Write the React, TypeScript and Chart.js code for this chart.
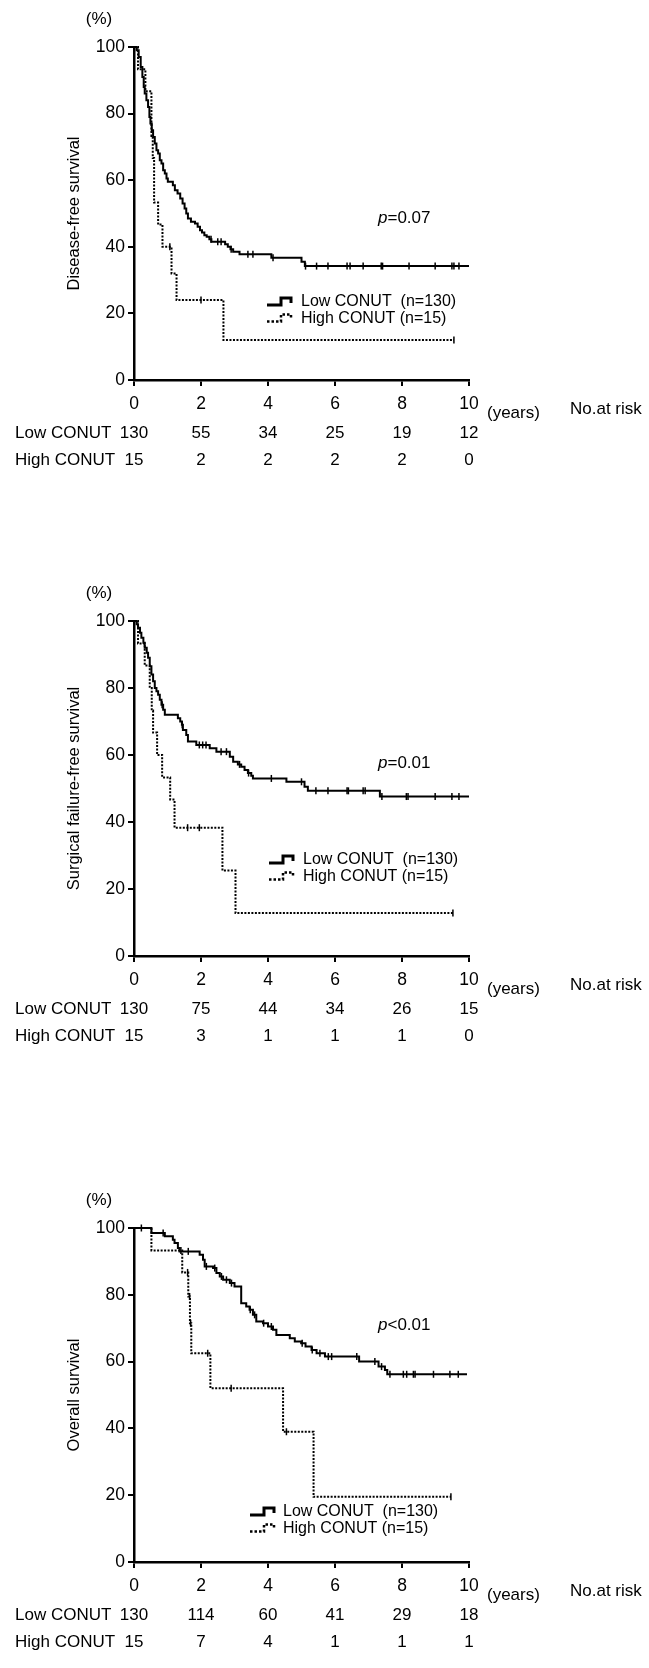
import React, { useEffect, useRef } from 'react';
import { Chart, registerables } from 'chart.js';

Chart.register(...registerables);

const FONT = "'Liberation Sans', Arial, Helvetica, sans-serif";

// ---------- axis ticks / labels ----------
const xTickValues = [0, 2, 4, 6, 8, 10];
const yTickValues = [0, 20, 40, 60, 80, 100];
const groupLabels = ['Low CONUT', 'High CONUT'];
const legendLabels = ['Low CONUT  (n=130)', 'High CONUT (n=15)'];
const yTitles = ['Disease-free survival', 'Surgical failure-free survival', 'Overall survival'];
const pValueTexts = ['=0.07', '=0.01', '<0.01'];

// ---------- Disease-free survival ----------
const dfsLowTimes = [0, 0.08, 0.14, 0.2, 0.25, 0.29, 0.32, 0.37, 0.42, 0.46, 0.49, 0.53, 0.57, 0.62, 0.67, 0.72, 0.77, 0.82, 0.87, 0.92, 0.97, 1.01, 1.16, 1.22, 1.3, 1.38, 1.45, 1.51, 1.56, 1.61, 1.7, 1.82, 1.9, 1.97, 2.03, 2.1, 2.17, 2.25, 2.31, 2.72, 2.8, 2.88, 2.96, 3.15, 4.1, 5.0, 5.1, 10.0];
const dfsLowSurv = [100, 99, 97, 94, 91, 88, 86, 84, 82, 79, 77, 75, 73, 71, 69, 68, 66, 65, 63, 62, 60.5, 59.5, 58.5, 57, 56, 54.5, 53, 51.5, 50, 48.5, 47.5, 47, 46, 45, 44.3, 43.5, 43, 42.3, 41.5, 40.8, 40, 39.3, 38.5, 37.8, 36.7, 35.5, 34.2, 34.2];
const dfsLowCensor = [2.3, 2.5, 2.6, 2.9, 3.4, 3.55, 4.15, 5.12, 5.45, 5.79, 6.36, 6.45, 6.84, 7.38, 7.42, 8.21, 8.99, 9.49, 9.55, 9.7];
const dfsHighTimes = [0, 0.12, 0.34, 0.52, 0.56, 0.6, 0.72, 0.85, 1.12, 1.27, 2.67, 9.55];
const dfsHighSurv = [100, 93.3, 86.7, 73.3, 66.7, 53.3, 46.7, 40, 32, 24, 12, 12];
const dfsHighCensor = [1.07, 2.0, 9.55];
const dfsRiskLow = [130, 55, 34, 25, 19, 12];
const dfsRiskHigh = [15, 2, 2, 2, 2, 0];

// ---------- Surgical failure-free survival ----------
const sfsLowTimes = [0, 0.08, 0.12, 0.18, 0.22, 0.28, 0.32, 0.38, 0.42, 0.47, 0.52, 0.57, 0.62, 0.67, 0.72, 0.77, 0.82, 0.87, 0.92, 1.31, 1.38, 1.43, 1.46, 1.56, 1.61, 1.86, 2.26, 2.46, 2.86, 2.96, 3.1, 3.2, 3.3, 3.4, 3.5, 3.55, 4.55, 5.09, 5.19, 7.34, 10.0];
const sfsLowSurv = [100, 99, 98, 96.5, 95, 93.5, 92, 90.5, 89, 86.5, 84, 82, 80, 79, 78, 76.5, 75, 73.5, 72, 71, 70, 69, 67.5, 66, 64, 63, 62, 61, 59.5, 58, 57.2, 56.5, 55.5, 54.6, 53.8, 53, 52, 50.5, 49.3, 47.6, 47.6];
const sfsLowCensor = [0.84, 1.44, 1.95, 2.05, 2.15, 2.6, 2.76, 3.15, 3.42, 4.1, 5.0, 5.43, 5.79, 6.36, 6.4, 6.84, 6.9, 7.4, 8.13, 8.18, 8.99, 9.49, 9.7];
const sfsHighTimes = [0, 0.12, 0.32, 0.47, 0.53, 0.57, 0.69, 0.84, 1.08, 1.21, 2.64, 3.03, 9.52];
const sfsHighSurv = [100, 93.3, 86.7, 80, 73.3, 66.7, 60, 53.3, 46.7, 38.3, 25.5, 12.8, 12.8];
const sfsHighCensor = [1.6, 1.95, 9.52];
const sfsRiskLow = [130, 75, 44, 34, 26, 15];
const sfsRiskHigh = [15, 3, 1, 1, 1, 0];

// ---------- Overall survival ----------
const osLowTimes = [0, 0.52, 0.92, 1.16, 1.21, 1.31, 1.36, 1.96, 2.06, 2.11, 2.36, 2.46, 2.56, 2.66, 2.86, 3.0, 3.2, 3.35, 3.45, 3.55, 3.65, 3.85, 4.0, 4.15, 4.25, 4.65, 4.8, 4.99, 5.12, 5.3, 5.45, 5.7, 6.72, 7.3, 7.49, 7.56, 9.94];
const osLowSurv = [100, 98.5, 97.5, 96.5, 95.5, 94, 93, 92, 90.5, 88.5, 88, 86.5, 85.5, 84.5, 83.5, 82.5, 77.5, 76.5, 75.5, 74, 72, 71.5, 70.5, 69.5, 68, 67, 66, 65.5, 64.5, 63.5, 62.5, 61.5, 60, 58.5, 57.5, 56.2, 56.2];
const osLowCensor = [0.22, 0.87, 1.62, 2.16, 2.41, 2.61, 2.76, 2.91, 3.47, 3.6, 3.87, 4.1, 5.02, 5.32, 5.55, 5.8, 5.9, 6.65, 7.19, 7.39, 7.64, 8.04, 8.14, 8.34, 8.39, 8.94, 9.43, 9.68];
const osHighTimes = [0, 0.52, 1.44, 1.62, 1.67, 1.71, 2.28, 4.45, 5.36, 9.46];
const osHighSurv = [100, 93.3, 86.7, 79.5, 71.5, 62.5, 52, 39, 19.5, 19.5];
const osHighCensor = [1.4, 1.6, 1.66, 1.69, 2.2, 2.9, 4.55, 9.46];
const osRiskLow = [130, 114, 60, 41, 29, 18];
const osRiskHigh = [15, 7, 4, 1, 1, 1];

type Pt = { x: number; y: number };

function toPoints(times: number[], surv: number[]): Pt[] {
  return times.map((t, i) => ({ x: t, y: surv[i] }));
}
function survAt(times: number[], surv: number[], t: number): number {
  let v = surv[0];
  for (let i = 0; i < times.length; i++) if (times[i] <= t) v = surv[i];
  return v;
}
function censorPoints(times: number[], surv: number[], cens: number[]): Pt[] {
  return cens.map((t) => ({ x: t, y: survAt(times, surv, t) }));
}

interface PanelCfg {
  top: number;
  height: number;
  plotBottom: number;
  yTitle: string;
  pRest: string;
  pOffset: number;
  legIconX: number;
  legTextX: number;
  legOffset: number;
  lowT: number[]; lowS: number[]; lowC: number[];
  highT: number[]; highS: number[]; highC: number[];
  riskLow: number[]; riskHigh: number[];
}

const panels: PanelCfg[] = [
  {
    top: 0, height: 500, plotBottom: 380, yTitle: yTitles[0], pRest: pValueTexts[0], pOffset: 171,
    legIconX: 267, legTextX: 301, legOffset: 255,
    lowT: dfsLowTimes, lowS: dfsLowSurv, lowC: dfsLowCensor,
    highT: dfsHighTimes, highS: dfsHighSurv, highC: dfsHighCensor,
    riskLow: dfsRiskLow, riskHigh: dfsRiskHigh,
  },
  {
    top: 574, height: 500, plotBottom: 382, yTitle: yTitles[1], pRest: pValueTexts[1], pOffset: 142,
    legIconX: 269, legTextX: 303, legOffset: 239,
    lowT: sfsLowTimes, lowS: sfsLowSurv, lowC: sfsLowCensor,
    highT: sfsHighTimes, highS: sfsHighSurv, highC: sfsHighCensor,
    riskLow: sfsRiskLow, riskHigh: sfsRiskHigh,
  },
  {
    top: 1181, height: 487, plotBottom: 381, yTitle: yTitles[2], pRest: pValueTexts[2], pOffset: 97,
    legIconX: 250, legTextX: 283, legOffset: 284,
    lowT: osLowTimes, lowS: osLowSurv, lowC: osLowCensor,
    highT: osHighTimes, highS: osHighSurv, highC: osHighCensor,
    riskLow: osRiskLow, riskHigh: osRiskHigh,
  },
];

function drawIcon(ctx: CanvasRenderingContext2D, x: number, y: number, dotted: boolean) {
  ctx.save();
  ctx.strokeStyle = '#000';
  ctx.lineWidth = dotted ? 2.5 : 3;
  if (dotted) ctx.setLineDash([2.5, 2]);
  ctx.beginPath();
  ctx.moveTo(x, y + 3);
  ctx.lineTo(x + 14, y + 3);
  ctx.lineTo(x + 14, y - 4);
  ctx.lineTo(x + 24, y - 4);
  ctx.lineTo(x + 24, y + 1);
  ctx.stroke();
  ctx.restore();
}

function makeDecor(cfg: PanelCfg) {
  return {
    id: 'kmDecor',
    afterDraw(chart: any) {
      const ctx: CanvasRenderingContext2D = chart.ctx;
      const a = chart.chartArea;
      const xs = chart.scales.x;
      ctx.save();
      ctx.fillStyle = '#000';
      ctx.textBaseline = 'middle';

      ctx.font = `17px ${FONT}`;
      ctx.textAlign = 'center';
      ctx.fillText('(%)', 99, a.top - 28);

      ctx.save();
      ctx.translate(74, (a.top + a.bottom) / 2);
      ctx.rotate(-Math.PI / 2);
      ctx.font = `16.5px ${FONT}`;
      ctx.textAlign = 'center';
      ctx.fillText(cfg.yTitle, 0, 0);
      ctx.restore();

      ctx.textAlign = 'left';
      ctx.font = `italic 17px ${FONT}`;
      ctx.fillText('p', 378, a.top + cfg.pOffset);
      const pw = ctx.measureText('p').width;
      ctx.font = `17px ${FONT}`;
      ctx.fillText(cfg.pRest, 378 + pw, a.top + cfg.pOffset);

      ctx.font = `16px ${FONT}`;
      const ly = a.top + cfg.legOffset;
      drawIcon(ctx, cfg.legIconX, ly, false);
      drawIcon(ctx, cfg.legIconX, ly + 16.5, true);
      ctx.fillText(legendLabels[0], cfg.legTextX, ly);
      ctx.fillText(legendLabels[1], cfg.legTextX, ly + 16.5);

      ctx.font = `17px ${FONT}`;
      ctx.fillText('(years)', 487, a.bottom + 33);
      ctx.fillText('No.at risk', 570, a.bottom + 29);

      const rowY = [a.bottom + 53, a.bottom + 80];
      const rows = [cfg.riskLow, cfg.riskHigh];
      rows.forEach((vals, r) => {
        ctx.textAlign = 'left';
        ctx.fillText(groupLabels[r], 15, rowY[r]);
        ctx.textAlign = 'center';
        vals.forEach((v, i) => {
          ctx.fillText(String(v), xs.getPixelForValue(xTickValues[i]), rowY[r]);
        });
      });
      ctx.restore();
    },
  };
}

function KMPanel({ cfg }: { cfg: PanelCfg }) {
  const ref = useRef<HTMLCanvasElement | null>(null);
  useEffect(() => {
    if (!ref.current) return;
    const H = cfg.height;
    const chart = new Chart(ref.current, {
      type: 'line',
      data: {
        datasets: [
          {
            data: toPoints(cfg.lowT, cfg.lowS),
            stepped: 'before',
            borderColor: '#000',
            borderWidth: 2,
            pointRadius: 0,
            fill: false,
            clip: false,
          } as any,
          {
            data: toPoints(cfg.highT, cfg.highS),
            stepped: 'before',
            borderColor: '#000',
            borderWidth: 2,
            borderDash: [2, 1.5],
            pointRadius: 0,
            fill: false,
            clip: false,
          } as any,
          {
            data: censorPoints(cfg.lowT, cfg.lowS, cfg.lowC),
            showLine: false,
            pointStyle: 'line',
            rotation: 90,
            pointRadius: 3.5,
            pointBorderWidth: 1.5,
            pointBorderColor: '#000',
            clip: false,
          } as any,
          {
            data: censorPoints(cfg.highT, cfg.highS, cfg.highC),
            showLine: false,
            pointStyle: 'line',
            rotation: 90,
            pointRadius: 3.5,
            pointBorderWidth: 1.5,
            pointBorderColor: '#000',
            clip: false,
          } as any,
        ],
      },
      options: {
        animation: false,
        responsive: false,
        devicePixelRatio: 1,
        events: [],
        layout: { padding: { left: 0, right: 180, top: 47, bottom: 0 } },
        plugins: { legend: { display: false }, tooltip: { enabled: false }, title: { display: false } },
        scales: {
          x: {
            type: 'linear',
            min: 0,
            max: 10,
            afterFit: (s: any) => { s.height = H - cfg.plotBottom; },
            afterBuildTicks: (s: any) => { s.ticks = xTickValues.map((v) => ({ value: v })); },
            ticks: { color: '#000', font: { size: 17.5, family: FONT }, padding: 8, maxRotation: 0, autoSkip: false },
            grid: { display: true, drawOnChartArea: false, drawTicks: true, tickLength: 6, color: '#000', lineWidth: 2 },
            border: { display: true, color: '#000', width: 2.5 },
          },
          y: {
            type: 'linear',
            min: 0,
            max: 100,
            afterFit: (s: any) => { s.width = 134; },
            afterBuildTicks: (s: any) => { s.ticks = yTickValues.map((v) => ({ value: v })); },
            ticks: { color: '#000', font: { size: 17.5, family: FONT }, padding: 3, autoSkip: false },
            grid: { display: true, drawOnChartArea: false, drawTicks: true, tickLength: 6, color: '#000', lineWidth: 2 },
            border: { display: true, color: '#000', width: 2.5 },
          },
        },
      } as any,
      plugins: [makeDecor(cfg)],
    });
    return () => chart.destroy();
  }, [cfg]);
  return (
    <canvas
      ref={ref}
      width={649}
      height={cfg.height}
      style={{ position: 'absolute', left: 0, top: cfg.top, width: 649, height: cfg.height, display: 'block' }}
    />
  );
}

export default function App() {
  return (
    <div style={{ position: 'absolute', left: 0, top: 0, width: 649, height: 1668, background: '#fff', overflow: 'hidden' }}>
      {panels.map((p, i) => (
        <KMPanel key={i} cfg={p} />
      ))}
    </div>
  );
}
